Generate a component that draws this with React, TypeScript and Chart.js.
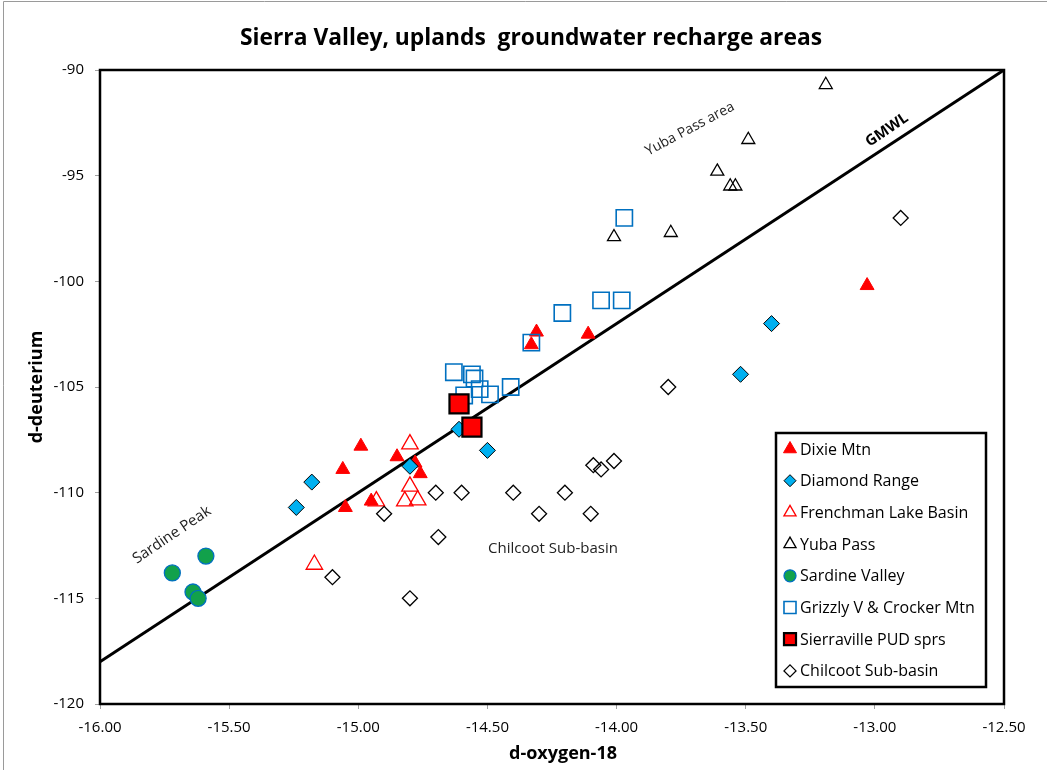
import React, { useEffect, useRef } from 'react';
import { Chart, registerables } from 'chart.js';
Chart.register(...registerables);

// ---- data ----
const dixieO18 = [-14.31, -14.33, -14.11, -13.03, -14.99, -15.06, -15.05, -14.95, -14.85, -14.78, -14.76];
const dixieD = [-102.4, -103.0, -102.5, -100.2, -107.8, -108.9, -110.7, -110.4, -108.3, -108.6, -109.1];

const diamondO18 = [-15.18, -15.24, -14.80, -14.61, -14.50, -13.40, -13.52];
const diamondD = [-109.5, -110.7, -108.75, -107.0, -108.0, -102.0, -104.4];

const frenchO18 = [-14.80, -14.80, -14.82, -14.77, -14.93, -15.17];
const frenchD = [-107.7, -109.7, -110.4, -110.35, -110.4, -113.4];

const yubaO18 = [-13.19, -13.49, -13.61, -13.56, -13.54, -14.01, -13.79];
const yubaD = [-90.7, -93.3, -94.8, -95.5, -95.5, -97.9, -97.7];

const sardineO18 = [-15.59, -15.72, -15.64, -15.62];
const sardineD = [-113.0, -113.8, -114.7, -115.0];

const grizzlyO18 = [-13.97, -14.06, -13.98, -14.21, -14.33, -14.63, -14.56, -14.55, -14.59, -14.53, -14.49, -14.41];
const grizzlyD = [-97.0, -100.9, -100.9, -101.5, -102.9, -104.3, -104.4, -104.6, -105.4, -105.1, -105.35, -105.0];

const sierravilleO18 = [-14.61, -14.56];
const sierravilleD = [-105.8, -106.9];

const chilcootO18 = [-12.9, -13.8, -14.09, -14.06, -14.01, -14.7, -14.6, -14.4, -14.2, -14.9, -14.3, -14.1, -14.69, -15.1, -14.8];
const chilcootD = [-97.0, -105.0, -108.7, -108.9, -108.5, -110, -110, -110, -110, -111, -111, -111, -112.1, -114, -115];

const gmwlO18 = [-16, -12.5];
const gmwlD = [-118, -90];

const xTicks = [-16, -15.5, -15, -14.5, -14, -13.5, -13, -12.5];
const yTicks = [-90, -95, -100, -105, -110, -115, -120];

const TITLE = 'Sierra Valley, uplands  groundwater recharge areas';
const X_TITLE = 'd-oxygen-18';
const Y_TITLE = 'd-deuterium';

const FONT = '"Open Sans", "Liberation Sans", sans-serif';

const pts = (xs: number[], ys: number[]) => xs.map((x, i) => ({ x, y: ys[i] }));

type SeriesStyle = {
  label: string;
  style: string;
  radius: number;
  fill: string;
  stroke: string;
  lw: number;
  lr: number;
};

const series: (SeriesStyle & { xs: number[]; ys: number[] })[] = [
  { label: 'Dixie Mtn', xs: dixieO18, ys: dixieD, style: 'triangle', radius: 8, fill: '#FF0000', stroke: '#FF0000', lw: 1, lr: 7.5 },
  { label: 'Diamond Range', xs: diamondO18, ys: diamondD, style: 'rectRot', radius: 8, fill: '#00B0F0', stroke: '#000000', lw: 1, lr: 6 },
  { label: 'Frenchman Lake Basin', xs: frenchO18, ys: frenchD, style: 'triangle', radius: 9.5, fill: 'rgba(0,0,0,0)', stroke: '#FF0000', lw: 1.3, lr: 7 },
  { label: 'Yuba Pass', xs: yubaO18, ys: yubaD, style: 'triangle', radius: 7.5, fill: 'rgba(0,0,0,0)', stroke: '#000000', lw: 1.3, lr: 7 },
  { label: 'Sardine Valley', xs: sardineO18, ys: sardineD, style: 'circle', radius: 8, fill: '#12A14B', stroke: '#0070C0', lw: 1.3, lr: 6 },
  { label: 'Grizzly V & Crocker Mtn', xs: grizzlyO18, ys: grizzlyD, style: 'rect', radius: 11.5, fill: 'rgba(0,0,0,0)', stroke: '#0070C0', lw: 1.6, lr: 8.5 },
  { label: 'Sierraville PUD sprs', xs: sierravilleO18, ys: sierravilleD, style: 'rect', radius: 13.5, fill: '#FF0000', stroke: '#000000', lw: 2.2, lr: 8.5 },
  { label: 'Chilcoot Sub-basin', xs: chilcootO18, ys: chilcootD, style: 'rectRot', radius: 7.5, fill: 'rgba(0,0,0,0)', stroke: '#000000', lw: 1.3, lr: 6 },
];

function drawMarker(ctx: CanvasRenderingContext2D, s: SeriesStyle, x: number, y: number) {
  const r = s.lr;
  ctx.save();
  ctx.beginPath();
  if (s.style === 'triangle') {
    for (let k = 0; k < 3; k++) {
      const a = (k * 2 * Math.PI) / 3;
      const px = x + Math.sin(a) * r;
      const py = y - Math.cos(a) * r;
      if (k === 0) ctx.moveTo(px, py);
      else ctx.lineTo(px, py);
    }
    ctx.closePath();
  } else if (s.style === 'rectRot') {
    ctx.moveTo(x - r, y);
    ctx.lineTo(x, y - r);
    ctx.lineTo(x + r, y);
    ctx.lineTo(x, y + r);
    ctx.closePath();
  } else if (s.style === 'rect') {
    const h = r * Math.SQRT1_2;
    ctx.rect(x - h, y - h, 2 * h, 2 * h);
  } else {
    ctx.arc(x, y, r, 0, Math.PI * 2);
  }
  ctx.fillStyle = s.fill;
  ctx.fill();
  ctx.lineWidth = s.lw;
  ctx.strokeStyle = s.stroke;
  ctx.stroke();
  ctx.restore();
}

function drawRotated(ctx: CanvasRenderingContext2D, text: string, x: number, y: number, deg: number, font: string, color = '#222') {
  ctx.save();
  ctx.translate(x, y);
  ctx.rotate((deg * Math.PI) / 180);
  ctx.font = font;
  ctx.fillStyle = color;
  ctx.textAlign = 'center';
  ctx.textBaseline = 'middle';
  ctx.fillText(text, 0, 0);
  ctx.restore();
}

const overlay = {
  id: 'overlay',
  afterDraw(chart: any) {
    const ctx: CanvasRenderingContext2D = chart.ctx;
    const a = chart.chartArea;
    ctx.save();
    // outer frame
    ctx.strokeStyle = '#9a9a9a';
    ctx.lineWidth = 1;
    ctx.beginPath();
    ctx.moveTo(3.5, 770);
    ctx.lineTo(3.5, 1.5);
    ctx.lineTo(1047, 1.5);
    ctx.stroke();

    // plot area border
    ctx.strokeStyle = '#000';
    ctx.lineWidth = 2.5;
    ctx.strokeRect(a.left, a.top, a.right - a.left, a.bottom - a.top);

    // title
    ctx.font = `bold 24px ${FONT}`;
    const tw = ctx.measureText(TITLE).width;
    ctx.save();
    ctx.translate(531, 38);
    ctx.scale(582 / tw, 1);
    ctx.fillStyle = '#000';
    ctx.textAlign = 'center';
    ctx.textBaseline = 'middle';
    ctx.fillText(TITLE, 0, 0);
    ctx.restore();

    // axis titles
    drawRotated(ctx, X_TITLE, 563, 754, 0, `bold 18px ${FONT}`, '#000');
    drawRotated(ctx, Y_TITLE, 37, 387, -90, `bold 18px ${FONT}`, '#000');

    // annotations
    drawRotated(ctx, 'Yuba Pass area', 690, 129, -28, `14px ${FONT}`, '#222');
    drawRotated(ctx, 'GMWL', 887, 130, -34, `bold 15px ${FONT}`, '#000');
    drawRotated(ctx, 'Sardine Peak', 172, 535, -34, `15px ${FONT}`, '#222');
    drawRotated(ctx, 'Chilcoot Sub-basin', 553, 549, 0, `15px ${FONT}`, '#222');

    // legend
    ctx.fillStyle = '#fff';
    ctx.fillRect(776, 433, 210, 254);
    ctx.strokeStyle = '#000';
    ctx.lineWidth = 2.5;
    ctx.strokeRect(776, 433, 210, 254);
    series.forEach((s, i) => {
      const y = 449 + i * 31.7;
      drawMarker(ctx, s, 790, y);
      ctx.font = `16px ${FONT}`;
      ctx.fillStyle = '#000';
      ctx.textAlign = 'left';
      ctx.textBaseline = 'middle';
      ctx.fillText(s.label, 800, y + 1);
    });
    ctx.restore();
  },
};

export default function App() {
  const ref = useRef<HTMLCanvasElement>(null);
  useEffect(() => {
    document.body.style.margin = '0';
    const canvas = ref.current;
    if (!canvas) return;
    const n = series.length;
    const datasets: any[] = series.map((s, i) => ({
      type: 'scatter',
      label: s.label,
      data: pts(s.xs, s.ys),
      pointStyle: s.style,
      pointRadius: s.radius,
      pointHoverRadius: s.radius,
      pointBackgroundColor: s.fill,
      pointBorderColor: s.stroke,
      pointBorderWidth: s.lw,
      backgroundColor: s.fill,
      borderColor: s.stroke,
      showLine: false,
      order: n - i,
    }));
    datasets.push({
      type: 'line',
      label: 'GMWL',
      data: pts(gmwlO18, gmwlD),
      borderColor: '#000',
      borderWidth: 3,
      pointRadius: 0,
      fill: false,
      order: 100,
    });

    const tickFont = { family: FONT, size: 15 };
    const chart = new Chart(canvas, {
      type: 'scatter',
      data: { datasets },
      options: {
        responsive: false,
        animation: false,
        events: [],
        layout: { padding: { left: 0, top: 70, right: 43, bottom: 0 } },
        plugins: { legend: { display: false }, tooltip: { enabled: false }, title: { display: false } },
        scales: {
          x: {
            type: 'linear',
            min: -16,
            max: -12.5,
            afterBuildTicks: (s: any) => { s.ticks = xTicks.map((v) => ({ value: v })); },
            ticks: { font: tickFont, color: '#000', padding: 10, maxRotation: 0, autoSkip: false, callback: (v: any) => Number(v).toFixed(2) },
            grid: { drawOnChartArea: false, drawTicks: true, tickLength: 5, color: '#a0a0a0' },
            border: { display: false },
            afterFit: (s: any) => { s.height = 66; },
          },
          y: {
            type: 'linear',
            min: -120,
            max: -90,
            afterBuildTicks: (s: any) => { s.ticks = yTicks.map((v) => ({ value: v })); },
            ticks: { font: tickFont, color: '#000', padding: 11, autoSkip: false, callback: (v: any) => String(v) },
            grid: { drawOnChartArea: false, drawTicks: true, tickLength: 5, color: '#a0a0a0' },
            border: { display: false },
            afterFit: (s: any) => { s.width = 100; },
          },
        },
      },
      plugins: [overlay],
    } as any);
    return () => chart.destroy();
  }, []);
  return (
    <div style={{ width: 1047, height: 770, background: '#fff' }}>
      <canvas ref={ref} width={1047} height={770} style={{ display: 'block' }} />
    </div>
  );
}
